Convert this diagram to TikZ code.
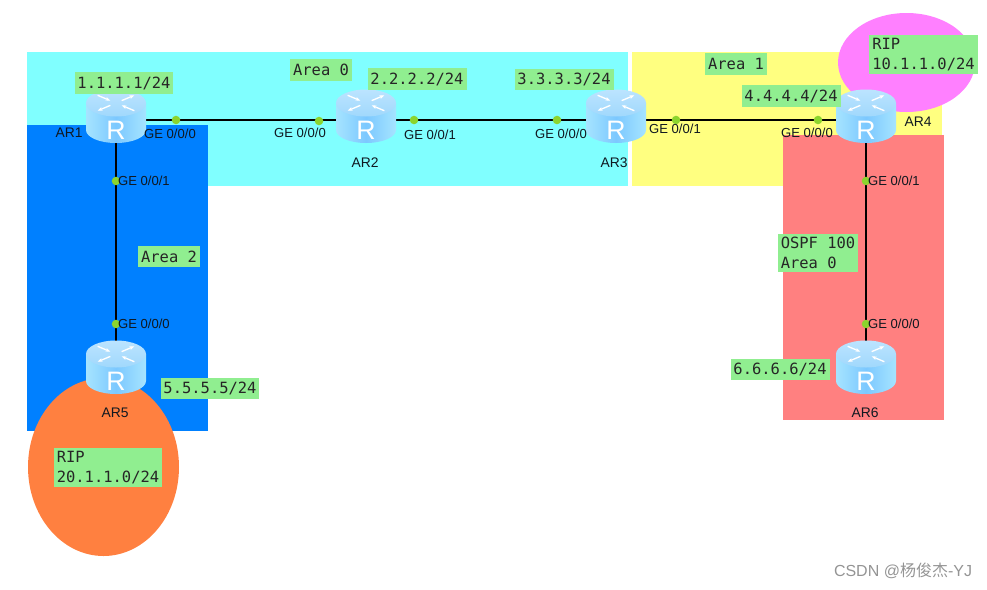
\documentclass[tikz,border=0pt]{standalone}
\usepackage{fontspec}
\setmainfont{Liberation Sans}
\setmonofont{DejaVu Sans Mono}
\newfontfamily\cjkfont{Noto Sans CJK SC}
\usetikzlibrary{positioning,arrows.meta,backgrounds}

\definecolor{areacyan}{HTML}{80FFFF}
\definecolor{areablue}{HTML}{0080FF}
\definecolor{areayellow}{HTML}{FFFF80}
\definecolor{areared}{HTML}{FF8080}
\definecolor{ripmagenta}{HTML}{FF80FF}
\definecolor{riporange}{HTML}{FF8040}
\definecolor{notegreen}{HTML}{90EE90}
\definecolor{portgreen}{HTML}{8CD42E}
\definecolor{inktext}{HTML}{101820}
\definecolor{bodyedge}{HTML}{A6E4FF}
\definecolor{bodymid}{HTML}{7CC8FF}
\definecolor{capedge}{HTML}{BCE4FF}
\definecolor{capmid}{HTML}{A0D8FC}

\begin{document}
\begin{tikzpicture}[
    x=0.75pt, y=-0.75pt,
    router/.style   = {rectangle, minimum width=45pt, minimum height=45pt, inner sep=0pt},
    port/.style     = {circle, fill=portgreen, minimum size=6.4pt, inner sep=0pt},
    portlabel/.style= {font=\fontsize{9.8pt}{11pt}\selectfont, text=inktext, inner sep=0pt},
    routername/.style = {font=\fontsize{10.4pt}{12pt}\selectfont, text=inktext, inner sep=0pt},
    note/.style     = {fill=notegreen, font=\ttfamily\fontsize{11.6pt}{15pt}\selectfont,
                       text=black!85, align=left, inner xsep=2.2pt, inner ysep=2.6pt,
                       minimum height=15.8pt},
    link/.style     = {line width=1.9pt, black},
    routericon/.pic = {
      \path[left color=bodyedge, right color=bodyedge, middle color=bodymid]
        (-30,-17) -- (-30,10) arc[start angle=180, end angle=0, x radius=30, y radius=13]
        -- (30,-17) -- cycle;
      \path[top color=capedge, bottom color=capmid]
        (0,-17) ellipse[x radius=30, y radius=13.5];
      \begin{scope}[shift={(0,-17)}, yscale=0.42]
        \foreach \a in {45,225}
          \draw[white, line width=1pt, -{Stealth[length=3.6pt]}] (\a:26) -- (\a:8);
        \foreach \a in {135,315}
          \draw[white, line width=1pt, -{Stealth[length=3.6pt]}] (\a:8) -- (\a:26);
      \end{scope}
      \node[text=white, inner sep=0pt, font=\fontsize{20pt}{20pt}\selectfont] at (0,10) {R};
    }
]
\useasboundingbox (0,0) rectangle (987,589);

% --- Routers -----------------------------------------------------------------
\node[router] (AR1) at (116,120) {};
\node[router] (AR2) at (366,120) {};
\node[router] (AR3) at (616,120) {};
\node[router] (AR4) at (866,120) {};
\node[router] (AR5) at (116,371) {};
\node[router] (AR6) at (866,371) {};

% --- Areas and links, behind the routers --------------------------------------
\begin{scope}[on background layer]
  \fill[areacyan]   (27,52)  rectangle (628,186);
  \fill[areablue]   (27,125) rectangle (208,431);
  \fill[areayellow] (632,52) rectangle (942,186);
  \fill[areared]    (783,135) rectangle (944,420);
  \fill[ripmagenta] (906.5,62.5) ellipse[x radius=68.5, y radius=49.5];
  \fill[riporange]  (103.5,467) ellipse[x radius=75.5, y radius=89];

  \draw[link] (AR1.center) -- (AR2.center);
  \draw[link] (AR2.center) -- (AR3.center);
  \draw[link] (AR3.center) -- (AR4.center);
  \draw[link] (AR1.center) -- (AR5.center);
  \draw[link] (AR4.center) -- (AR6.center);
\end{scope}

\foreach \r in {AR1,AR2,AR3,AR4,AR5,AR6}
  \pic at (\r) {routericon};

% --- Ports --------------------------------------------------------------------
\node[port] (p1a) at (176,120) {};
\node[port] (p2a) at (319,121) {};
\node[port] (p2b) at (414,120) {};
\node[port] (p3a) at (557,120) {};
\node[port] (p3b) at (676,120) {};
\node[port] (p4a) at (818,120) {};
\node[port] (p1b) at (116,181) {};
\node[port] (p5a) at (116,324) {};
\node[port] (p4b) at (866,181) {};
\node[port] (p6a) at (866,324) {};

\node[portlabel] (l1a) at (170,134) {GE 0/0/0};
\node[portlabel] (l2a) at (300,133) {GE 0/0/0};
\node[portlabel] (l2b) at (430,135) {GE 0/0/1};
\node[portlabel] (l3a) at (561,134) {GE 0/0/0};
\node[portlabel] (l3b) at (675,129) {GE 0/0/1};
\node[portlabel] (l4a) at (807,133) {GE 0/0/0};
\node[portlabel, right=-2pt of p1b] (l1b) {GE 0/0/1};
\node[portlabel, right=-2pt of p5a] (l5a) {GE 0/0/0};
\node[portlabel, right=-2pt of p4b] (l4b) {GE 0/0/1};
\node[portlabel, right=-2pt of p6a] (l6a) {GE 0/0/0};

% --- Router names -------------------------------------------------------------
\node[routername] (n1) at (69,133)  {AR1};
\node[routername] (n2) at (365,163) {AR2};
\node[routername] (n3) at (614,163) {AR3};
\node[routername] (n4) at (918,122) {AR4};
\node[routername] (n5) at (115,413) {AR5};
\node[routername] (n6) at (865,413) {AR6};

% --- Notes --------------------------------------------------------------------
\node[note] (ip1) at (124,83)    {1.1.1.1/24};
\node[note] (ip2) at (417,79)    {2.2.2.2/24};
\node[note] (ip3) at (564,79.5)  {3.3.3.3/24};
\node[note] (ip4) at (791,96)    {4.4.4.4/24};
\node[note] (ip5) at (210,388.5) {5.5.5.5/24};
\node[note] (ip6) at (780,369.5) {6.6.6.6/24};
\node[note] (area0) at (321,70)  {Area 0};
\node[note] (area1) at (736,64)  {Area 1};
\node[note] (area2) at (169,256.5) {Area 2};
\node[note] (ospf) at (818,253)  {OSPF 100\\Area 0};
\node[note] (rip1) at (923.5,54.5) {RIP\\10.1.1.0/24};
\node[note] (rip2) at (108,467.5)  {RIP\\20.1.1.0/24};

\node[text=black!42, inner sep=0pt, font=\fontsize{12pt}{14pt}\selectfont] (mark) at (903,571)
  {CSDN @{\cjkfont 杨俊杰}-YJ};

\end{tikzpicture}
\end{document}
